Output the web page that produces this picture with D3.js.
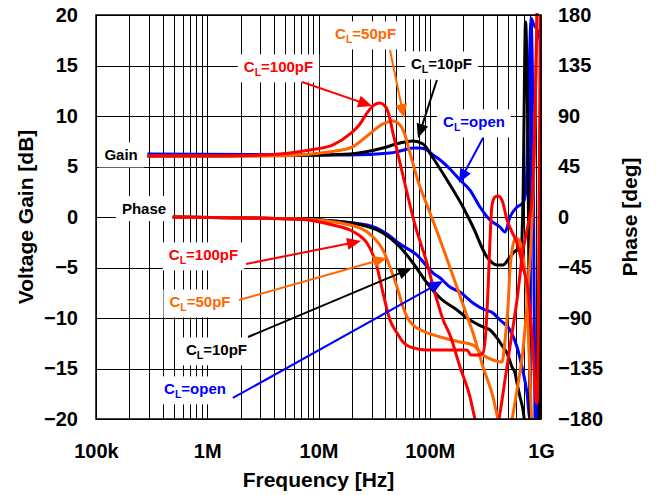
<!DOCTYPE html>
<html>
<head>
<meta charset="utf-8">
<script src="https://cdn.jsdelivr.net/npm/d3@7"></script>
<style>
  body { margin: 0; background: #fff; }
  text { font-family: "Liberation Sans", Arial, sans-serif; font-weight: bold; }
</style>
</head>
<body>
<svg id="chart" width="658" height="495"></svg>
<script>
// ── Data (frequency in MHz, gain in dB, phase in deg) ─────────────────────────

const xTicks      = [1e5, 1e6, 1e7, 1e8, 1e9];
const xTickLabels = ['100k', '1M', '10M', '100M', '1G'];
const gainTicks   = [20, 15, 10, 5, 0, -5, -10, -15, -20];
const phaseTicks  = [180, 135, 90, 45, 0, -45, -90, -135, -180];

// C_L = open
const blueGainF  = [0.29,2.42,6.82,19.2,43.9,54.0,70.7,81.7,94.5,107,124,152,187,230,283,348,428,475,526,609,689,733,764,813,848,883,920,980,1000];
const blueGainV  = [6.24,6.19,6.14,6.14,6.34,6.53,6.83,6.83,6.63,6.14,5.64,4.75,3.66,2.67,0.99,-0.30,-0.99,-1.49,0,0.99,1.39,2.67,9.60,19.21,9.6,-20,-22,-1.58,1.68];
const bluePhaseF = [0.49,2.42,6.82,27.3,41.3,54.0,76.8,107,124,152,187,245,301,370,428,526,609,675,749,797,813,865,940,980,1000];
const bluePhaseV = [0,-0.9,-1.8,-7.1,-15.1,-24.1,-33.9,-49.9,-54.4,-62.4,-66.9,-76.6,-82.0,-85.5,-91.8,-100.7,-115.8,-133.7,-156.9,-180,177,171,165,157.7,113];

// C_L = 10pF
const blackGainF  = [0.29,6.82,19.2,38.0,54.0,70.7,87.0,107,143,199,245,327,402,455,526,609,661,689,726,764,797,813,959,985,1000];
const blackGainV  = [6.04,6.09,6.24,6.83,7.33,7.52,7.23,5.84,3.66,0.99,-0.99,-3.96,-4.75,-4.75,-3.96,-3.27,-3.47,1.68,19.31,6.63,-20,-22,-20,-11.19,5.64];
const blackPhaseF = [0.49,2.42,6.82,19.2,38.0,54.0,70.7,94.5,124,176,230,301,348,402,455,495,549,584,609,648,689,711];
const blackPhaseV = [0,-0.9,-1.8,-5.3,-14.3,-26.7,-41.0,-58.8,-72.2,-82.9,-91.8,-98.0,-100.7,-107.8,-115.8,-121.2,-133.7,-139.0,-148.0,-160.4,-172.0,-182];

// C_L = 50pF
const orangeGainF  = [0.29,2.42,5.54,10.3,19.2,27.3,38.0,46.7,54.0,59.9,66.4,81.7,90.7,124,169,207,245,301,370,411,475,549,609,689,764,830,883,920];
const orangeGainV  = [6.04,6.04,6.09,6.34,6.83,8.02,9.21,9.50,9.11,8.12,6.34,2.97,1.68,-2.28,-6.44,-9.21,-11.49,-14.85,-17.82,-20,-22.1,-20,-17.1,-13.17,-7.23,-0.3,9.6,20];
const orangePhaseF = [0.49,2.42,6.82,19.2,30.9,38.0,43.9,50.8,57.5,62.5,70.7,87.0,124,187,245,301,370,446,475,505,526,560,596,634,689,749,797,830];
const orangePhaseV = [0,-0.9,-1.8,-7.1,-17.8,-29.4,-44.6,-62.4,-80.2,-89.1,-96.2,-101.6,-106.9,-111.4,-114.1,-123,-127.4,-129.2,-109.6,-80.2,-47.2,-24.9,-18.7,-20.5,-33.9,-74,-145.2,-190];

// C_L = 100pF
const redGainF  = [0.29,1.3,2.98,5.54,8.39,13.5,19.2,23.6,27.3,31.5,35.7,39.6,43.0,46.7,54.0,62.5,73.7,92.6,116,132,152,187,230,255,327,419,475,537,609,689,764,830,883,920];
const redGainV  = [6.04,6.04,6.14,6.34,6.63,7.13,8.22,9.21,10.30,11.09,11.29,10.99,10.10,8.32,5.35,2.38,-0.79,-4.26,-8.22,-10.20,-11.68,-14.85,-17.82,-20.0,-23.1,-20,-16.1,-12.2,-8.2,-3.3,-0.8,1.7,9.6,20.2];
const redPhaseF = [0.49,2.42,6.82,13.5,19.2,23.6,27.3,30.9,33.6,38.0,43.9,50.8,57.5,66.4,94.5,187,216,235,271,301,320,334,348,363,386,411,446,495,549,609,689,764,848,902,920,950,969,990];
const redPhaseV = [0,-0.9,-2,-7.1,-11.6,-16.9,-23.2,-33.9,-44.6,-67.7,-91.8,-103.4,-111.4,-115.8,-118.5,-118.5,-118.5,-123,-123,-121,-100.7,-65,-20.5,10.7,17.8,18.7,15.1,-2.7,-13.4,-23.2,-44.6,-65,-118.5,-163,-165.8,-74,59.7,180];

// Annotations: label centre, arrow start and arrow tip as (MHz, dB)
const annoNames  = ['100pF', '50pF', '10pF', 'open', '100pF', '50pF', '10pF', 'open'];
const annoLabelF = [4.37, 26.5, 127.5, 250, 0.925, 0.86, 1.21, 0.776];
const annoLabelV = [14.85, 18.12, 15.15, 9.41, -3.76, -8.42, -13.17, -17.03];
const annoFromF  = [7.11, 43.9, 116, 301, 2.23, 1.93, 2.33, 1.70];
const annoFromV  = [13.37, 16.53, 13.56, 7.82, -4.65, -8.22, -11.88, -17.92];
const annoTipF   = [30.3, 58.7, 78.5, 183, 24.1, 41.3, 69.2, 132];
const annoTipV   = [10.99, 9.80, 7.82, 3.37, -2.38, -4.06, -5.05, -6.34];

// ── Layout ───────────────────────────────────────────────────────────────────

const COLORS = { open: '#0000ff', '10pF': '#000000', '50pF': '#ff6600', '100pF': '#ff0000' };
const P = { left: 96, right: 541, top: 15, bottom: 419 };

const x  = d3.scaleLog().domain([1e5, 1e9]).range([P.left, P.right]);
const yG = d3.scaleLinear().domain([-20, 20]).range([P.bottom, P.top]);
const yP = d3.scaleLinear().domain([-180, 180]).range([P.bottom, P.top]);

const svg = d3.select('#chart');

// ── Grid ─────────────────────────────────────────────────────────────────────

const grid = svg.append('g').attr('shape-rendering', 'crispEdges');
grid.selectAll('line.v').data(x.ticks()).enter().append('line')
  .attr('x1', d => Math.round(x(d)) + 0.5).attr('x2', d => Math.round(x(d)) + 0.5)
  .attr('y1', P.top).attr('y2', P.bottom)
  .attr('stroke', '#000').attr('stroke-width', 1);
grid.selectAll('line.h').data(gainTicks).enter().append('line')
  .attr('x1', P.left).attr('x2', P.right)
  .attr('y1', d => Math.round(yG(d)) + 0.5).attr('y2', d => Math.round(yG(d)) + 0.5)
  .attr('stroke', '#000').attr('stroke-width', 1);

// ── Label boxes (white, hide grid under text) ────────────────────────────────

const boxLayer = svg.append('g');
const curveLayer = svg.append('g');
const arrowLayer = svg.append('g');
const textLayer = svg.append('g');

function addLabel(cx, cy, color, build) {
  const t = textLayer.append('text')
    .attr('x', cx).attr('y', cy + 5.4)
    .attr('text-anchor', 'middle')
    .attr('font-size', 15)
    .attr('fill', color);
  build(t);
  const bb = t.node().getBBox();
  boxLayer.append('rect')
    .attr('x', bb.x - 6).attr('y', bb.y - 4)
    .attr('width', bb.width + 12).attr('height', bb.height + 8)
    .attr('fill', '#fff');
}

addLabel(x(0.168e6), yG(6.14), '#000', t => t.text('Gain'));
addLabel(x(0.270e6), yG(0.82), '#000', t => t.text('Phase'));

annoNames.forEach((name, i) => {
  const color = COLORS[name];
  addLabel(x(annoLabelF[i] * 1e6), yG(annoLabelV[i]), color, t => {
    t.append('tspan').text('C');
    t.append('tspan').attr('font-size', 10.5).attr('dy', 4).text('L');
    t.append('tspan').attr('dy', -4).text('=' + name);
  });

  // Arrow
  const x0 = x(annoFromF[i] * 1e6), y0 = yG(annoFromV[i]);
  const x1 = x(annoTipF[i] * 1e6),  y1 = yG(annoTipV[i]);
  const len = Math.hypot(x1 - x0, y1 - y0);
  const ux = (x1 - x0) / len, uy = (y1 - y0) / len;
  const L = 14, Wd = 6;
  arrowLayer.append('line')
    .attr('x1', x0).attr('y1', y0)
    .attr('x2', x1 - ux * L * 0.8).attr('y2', y1 - uy * L * 0.8)
    .attr('stroke', color).attr('stroke-width', 2);
  const bx = x1 - ux * L, by = y1 - uy * L;
  arrowLayer.append('polygon')
    .attr('points', [[x1, y1], [bx - uy * Wd, by + ux * Wd], [bx + uy * Wd, by - ux * Wd]].map(p => p.join(',')).join(' '))
    .attr('fill', color);
});

// ── Curves ───────────────────────────────────────────────────────────────────

svg.append('clipPath').attr('id', 'plot-clip')
  .append('rect').attr('x', P.left).attr('y', P.top - 3)
  .attr('width', P.right - P.left + 1).attr('height', P.bottom - P.top + 3);
curveLayer.attr('clip-path', 'url(#plot-clip)');

const series = [
  { name: 'open',  gf: blueGainF,   gv: blueGainV,   pf: bluePhaseF,   pv: bluePhaseV },
  { name: '10pF',  gf: blackGainF,  gv: blackGainV,  pf: blackPhaseF,  pv: blackPhaseV },
  { name: '50pF',  gf: orangeGainF, gv: orangeGainV, pf: orangePhaseF, pv: orangePhaseV },
  { name: '100pF', gf: redGainF,    gv: redGainV,    pf: redPhaseF,    pv: redPhaseV },
];

const lineG = d3.line().x(d => x(d[0] * 1e6)).y(d => yG(d[1])).curve(d3.curveMonotoneX);
const lineP = d3.line().x(d => x(d[0] * 1e6)).y(d => yP(d[1])).curve(d3.curveMonotoneX);

series.forEach(s => {
  curveLayer.append('path')
    .datum(s.pf.map((f, i) => [f, s.pv[i]]))
    .attr('d', lineP)
    .attr('fill', 'none').attr('stroke', COLORS[s.name])
    .attr('stroke-width', 3).attr('stroke-linejoin', 'round');
  curveLayer.append('path')
    .datum(s.gf.map((f, i) => [f, s.gv[i]]))
    .attr('d', lineG)
    .attr('fill', 'none').attr('stroke', COLORS[s.name])
    .attr('stroke-width', 3).attr('stroke-linejoin', 'round');
});

// ── Frame & axes ─────────────────────────────────────────────────────────────

svg.append('rect')
  .attr('x', P.left).attr('y', P.top)
  .attr('width', P.right - P.left).attr('height', P.bottom - P.top)
  .attr('fill', 'none').attr('stroke', '#000').attr('stroke-width', 1.5);

function styleAxis(g) {
  g.select('.domain').remove();
  g.selectAll('text')
    .attr('font-family', '"Liberation Sans", Arial, sans-serif')
    .attr('font-weight', 'bold')
    .attr('font-size', 20)
    .attr('fill', '#000');
}

svg.append('g').attr('transform', `translate(${P.left},0)`)
  .call(d3.axisLeft(yG).tickValues(gainTicks).tickSize(0).tickPadding(18))
  .call(styleAxis);

svg.append('g').attr('transform', `translate(${P.right},0)`)
  .call(d3.axisRight(yP).tickValues(phaseTicks).tickSize(0).tickPadding(17))
  .call(styleAxis);

svg.append('g').attr('transform', `translate(0,${P.bottom})`)
  .call(d3.axisBottom(x).tickValues(xTicks).tickFormat((d, i) => xTickLabels[i]).tickSize(0).tickPadding(25))
  .call(styleAxis);

svg.append('text')
  .attr('x', (P.left + P.right) / 2).attr('y', 487)
  .attr('text-anchor', 'middle').attr('font-size', 21)
  .text('Frequency [Hz]');

svg.append('text')
  .attr('transform', `translate(33,${(P.top + P.bottom) / 2}) rotate(-90)`)
  .attr('text-anchor', 'middle').attr('font-size', 21)
  .text('Voltage Gain [dB]');

svg.append('text')
  .attr('transform', `translate(637,${(P.top + P.bottom) / 2}) rotate(-90)`)
  .attr('text-anchor', 'middle').attr('font-size', 21)
  .text('Phase [deg]');
</script>
</body>
</html>
